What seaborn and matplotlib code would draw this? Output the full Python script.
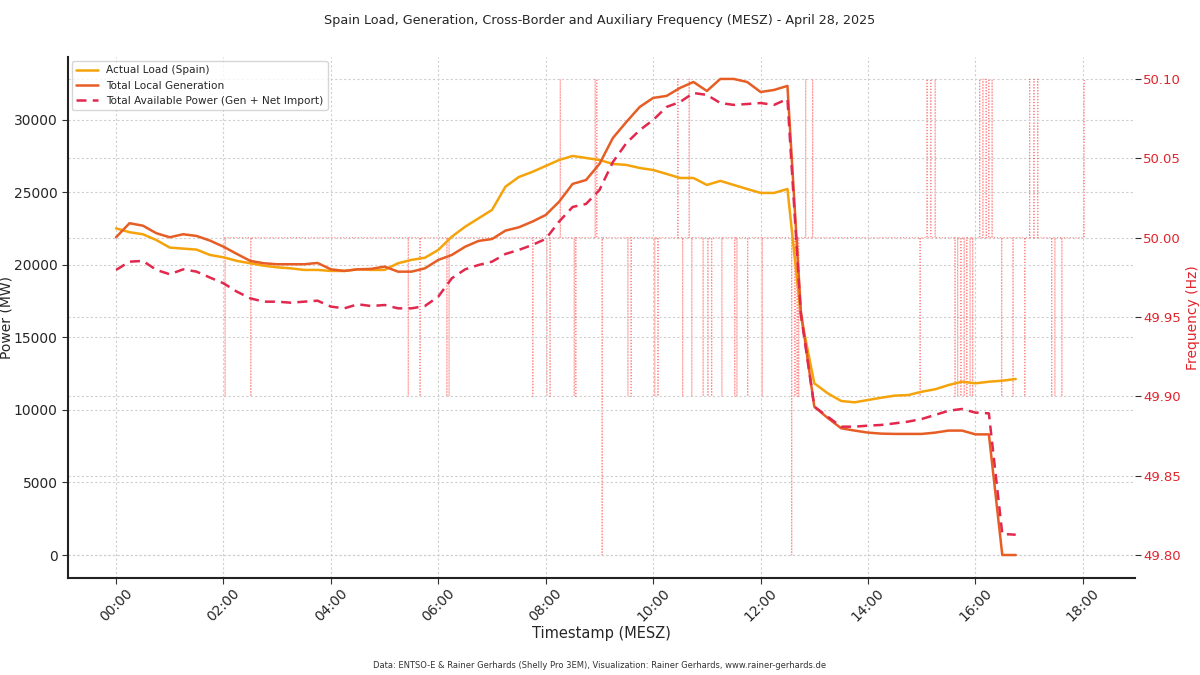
import pandas as pd
import seaborn as sns
import matplotlib.pyplot as plt
import matplotlib.dates as mdates
from matplotlib.ticker import FixedLocator, FormatStrFormatter

# 15-minute values, 00:00 .. 16:45 (MESZ)
hours = [i * 0.25 for i in range(68)]

load_mw = [22530, 22260, 22120, 21720, 21200, 21130, 21060, 20690,
           20530, 20280, 20120, 19950, 19840, 19770, 19660, 19660,
           19590, 19590, 19700, 19660, 19660, 20120, 20350, 20500,
           21040, 21950, 22640, 23220, 23800, 25400, 26070, 26420,
           26830, 27240, 27520, 27380, 27240, 26970, 26900, 26690,
           26550, 26280, 26000, 26000, 25520, 25800, 25520, 25240,
           24970, 24970, 25240, 16500, 11840, 11150, 10620, 10530,
           10690, 10850, 10990, 11030, 11260, 11430, 11720, 11950,
           11840, 11950, 12020, 12140]

gen_mw = [21910, 22880, 22710, 22190, 21910, 22120, 22000, 21680,
          21260, 20760, 20280, 20120, 20050, 20050, 20050, 20140,
          19700, 19590, 19700, 19730, 19890, 19540, 19540, 19770,
          20350, 20690, 21260, 21660, 21790, 22370, 22600, 22990,
          23450, 24370, 25590, 25860, 26970, 28760, 29860, 30900,
          31520, 31660, 32210, 32620, 32000, 32830, 32830, 32620,
          31930, 32070, 32350, 16800, 10230, 9450, 8740, 8580,
          8440, 8370, 8350, 8350, 8350, 8440, 8580, 8580,
          8320, 8320, 0, 0]

avail_mw = [19660, 20230, 20280, 19660, 19360, 19700, 19540, 19130,
            18740, 18160, 17700, 17470, 17470, 17400, 17470, 17540,
            17130, 17010, 17290, 17170, 17240, 17010, 17010, 17170,
            17820, 19080, 19700, 20000, 20230, 20760, 21040, 21380,
            21800, 23000, 24000, 24210, 25170, 27100, 28400, 29300,
            30000, 30900, 31240, 31860, 31730, 31170, 31040, 31100,
            31170, 31040, 31450, 16600, 10230, 9540, 8850, 8850,
            8920, 8970, 9080, 9200, 9380, 9660, 9950, 10070,
            9820, 9770, 1450, 1400]

# frequency (Shelly Pro 3EM, 0.1 Hz resolution): baseline 50.0 Hz with short excursions
freq_start, freq_end, freq_base = 2.0, 18.04, 50.0
spikes_up = [8.27, 8.92, 8.95, 10.46, 10.67, 12.84, 12.97, 15.10, 15.17, 15.25,
             16.08, 16.14, 16.20, 16.25, 16.31, 17.01, 17.09, 17.16, 18.02]
spikes_down = [2.03, 2.51, 5.44, 5.66, 6.16, 6.20, 7.76, 8.02, 8.08, 8.53, 8.56,
               9.53, 9.59, 10.03, 10.09, 10.55, 10.72, 10.93, 11.02, 11.09, 11.28,
               11.52, 11.56, 11.76, 12.03, 12.64, 12.68, 12.71, 14.97, 15.62, 15.67,
               15.73, 15.79, 15.84, 15.90, 15.95, 16.49, 16.70, 16.92, 17.42, 17.48,
               17.61]
spikes_deep = [9.05, 12.58]

day = pd.Timestamp("2025-04-28")


def to_time(h):
    return day + pd.to_timedelta(h, unit="h")


power_df = pd.DataFrame({
    "time": [to_time(h) for h in hours],
    "load": load_mw,
    "gen": gen_mw,
    "avail": avail_mw,
})

events = sorted([(t, 50.1) for t in spikes_up] +
                [(t, 49.9) for t in spikes_down] +
                [(t, 49.8) for t in spikes_deep])
pts = [(freq_start, freq_base)]
for t, v in events:
    pts += [(t - 0.002, freq_base), (t, v), (t + 0.002, freq_base)]
pts.append((freq_end, freq_base))
freq_df = pd.DataFrame({"time": [to_time(t) for t, _ in pts],
                        "freq": [v for _, v in pts]})

sns.set_style("whitegrid", {"grid.linestyle": (0, (2, 2)), "grid.color": "#cfcfcf"})
plt.rcParams["font.family"] = ["DejaVu Sans"]

fig = plt.figure(figsize=(12, 6.75), dpi=100)
ax = fig.add_axes([0.0567, 0.1437, 0.8891, 0.7719])
ax2 = ax.twinx()

red = "#e0242c"
sns.lineplot(data=freq_df, x="time", y="freq", ax=ax2, color="red", alpha=0.45,
             linewidth=0.8, linestyle=":", estimator=None, sort=False, legend=False)

sns.lineplot(data=power_df, x="time", y="load", ax=ax, color="#f5a30a", linewidth=1.8,
             label="Actual Load (Spain)")
sns.lineplot(data=power_df, x="time", y="gen", ax=ax, color="#e65d25", linewidth=1.8,
             label="Total Local Generation")
sns.lineplot(data=power_df, x="time", y="avail", ax=ax, color="#e2284c", linewidth=1.8,
             linestyle=(0, (4, 2.5)), label="Total Available Power (Gen + Net Import)")

ax.set_zorder(ax2.get_zorder() + 1)
ax.patch.set_visible(False)

ax.set_ylim(-1586, 34345)
ax2.set_ylim(49.7855, 50.1139)
ax.set_xlim(to_time(-0.894), to_time(18.97))

ax.xaxis.set_major_locator(mdates.HourLocator(byhour=range(0, 24, 2)))
ax.xaxis.set_major_formatter(mdates.DateFormatter("%H:%M"))
plt.setp(ax.get_xticklabels(), rotation=45, ha="center", fontsize=10)
ax.tick_params(axis="x", bottom=True, length=4, width=0.8, pad=2, color="#333333")
ax.tick_params(axis="y", left=True, labelsize=10, length=4, width=0.8, color="#333333")

ax2.yaxis.set_major_locator(FixedLocator([49.80, 49.85, 49.90, 49.95, 50.00, 50.05, 50.10]))
ax2.yaxis.set_major_formatter(FormatStrFormatter("%.2f"))
ax2.tick_params(axis="y", right=True, labelsize=9.5, length=4, width=0.8, color="#333333",
                labelcolor=red, pad=2)
ax2.grid(True, linestyle=(0, (2, 2)), color="#cfcfcf", linewidth=0.8)
ax.grid(True, linestyle=(0, (2, 2)), color="#cfcfcf", linewidth=0.8)

ax.set_xlabel("Timestamp (MESZ)", fontsize=10.5, labelpad=1)
ax.set_ylabel("Power (MW)", fontsize=10)
ax2.set_ylabel("Frequency (Hz)", fontsize=10, color=red)
ax.yaxis.set_label_coords(-0.0515, 0.5)
ax2.yaxis.set_label_coords(1.0478, 0.5)

for a in (ax, ax2):
    a.spines["top"].set_visible(False)
    a.spines["right"].set_visible(False)
ax2.spines["left"].set_visible(False)
ax2.spines["bottom"].set_visible(False)
ax.spines["left"].set_color("#222222")
ax.spines["bottom"].set_color("#222222")
ax.spines["left"].set_linewidth(1.5)
ax.spines["bottom"].set_linewidth(1.5)

leg = ax.legend(loc="upper left", fontsize=7.6, frameon=True, borderaxespad=0.4)
leg.get_frame().set_edgecolor("#cccccc")

fig.suptitle("Spain Load, Generation, Cross-Border and Auxiliary Frequency (MESZ) - April 28, 2025",
             y=0.979, fontsize=9.2)
fig.text(0.5, 0.011, "Data: ENTSO-E & Rainer Gerhards (Shelly Pro 3EM), Visualization: Rainer Gerhards, www.rainer-gerhards.de",
         ha="center", fontsize=6, color="#333333")

fig.savefig("out.png", dpi=100)
